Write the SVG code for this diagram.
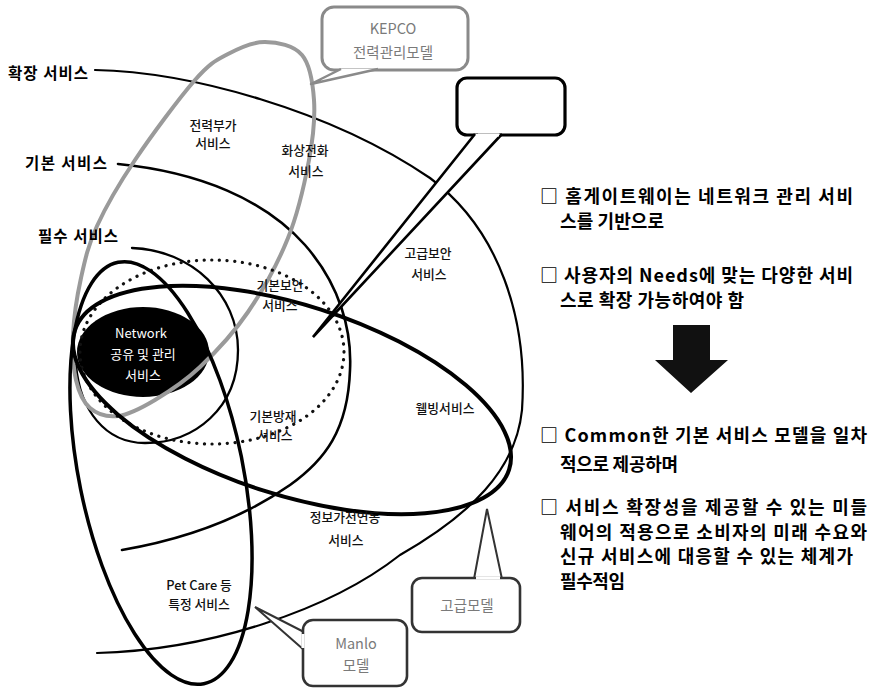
<svg xmlns="http://www.w3.org/2000/svg" width="874" height="689" viewBox="0 0 874 689">
<style>
text{font-family:"Noto Sans CJK KR","Noto Sans",sans-serif}
.lbl{font-size:15.5px;font-weight:700;fill:#000}
.in{font-size:12.8px;font-weight:500;fill:#111;text-anchor:middle}
.wt{font-size:13px;fill:#fff;text-anchor:middle}
.rt{font-size:18px;font-weight:700;fill:#000}
.co{font-size:14.5px;fill:#7a7a7a;text-anchor:middle}
.ln{fill:none;stroke:#000;stroke-linecap:round}
.gray{fill:none;stroke:#9a9a9a;stroke-width:4}
.dot{fill:none;stroke:#111;stroke-width:3.2;stroke-linecap:round;stroke-dasharray:0.1 7.6}
.box{fill:#fff;stroke-linejoin:round}
</style>
<rect width="874" height="689" fill="#fff"/>

<g id="network">
<ellipse cx="143" cy="352" rx="66" ry="45" fill="#000"/>
</g>

<g id="connectors">
<path id="curve-expand" class="ln" stroke-width="2.2" d="M95,70 C190,72 330,110 430,178 C500,230 528,320 522,410 C516,470 470,515 400,555 C330,610 210,650 97,653"/>
<path id="curve-basic" class="ln" stroke-width="2.6" d="M118,164 C200,172 265,200 305,245 C340,285 352,330 350,370 C348,430 325,460 290,485 C240,520 180,540 122,550"/>
<path id="curve-essential" class="ln" stroke-width="2.3" d="M132,248 C192,250 238,295 238,350 C238,408 195,443 145,443 C105,443 80,410 76,365"/>
<path id="ring-kepco" class="gray" d="M265,42 C277.3,42.2 293.8,45.3 302,55 C310.2,64.7 312.8,82.5 314,100 C315.2,117.5 313.3,137 309,160 C304.7,183 298.2,212.7 288,238 C277.8,263.3 262.7,290.5 248,312 C233.3,333.5 215.5,352.3 200,367 C184.5,381.7 168.7,391.8 155,400 C141.3,408.2 128.8,414.7 118,416 C107.2,417.3 97,414 90,408 C83,402 78.8,392.2 76,380 C73.2,367.8 72.2,352 73,335 C73.8,318 77,296.2 81,278 C85,259.8 88,245.7 97,226 C106,206.3 118.7,184.3 135,160 C151.3,135.7 179.5,97.7 195,80 C210.5,62.3 216.3,60.3 228,54 C239.7,47.7 252.7,41.8 265,42 Z"/>
<ellipse id="ring-security" class="dot" cx="212" cy="352" rx="132" ry="92"/>
<ellipse id="ring-wellbeing" class="ln" stroke-width="4" cx="292" cy="400" rx="228" ry="95" transform="rotate(17.8 292 400)"/>
<ellipse id="ring-petcare" class="ln" stroke-width="3.5" cx="161" cy="473" rx="82" ry="215" transform="rotate(-11.5 161 473)"/>
</g>

<g id="network-text">
<text class="wt" x="141" y="338">Network</text>
<text class="wt" x="143" y="359">공유 및 관리</text>
<text class="wt" x="143" y="380">서비스</text>
</g>

<g id="level-labels">
<text class="lbl" x="8" y="79" textLength="80">확장 서비스</text>
<text class="lbl" x="25" y="169" textLength="82">기본 서비스</text>
<text class="lbl" x="38" y="242" textLength="80">필수 서비스</text>
</g>

<g id="service-labels">
<text class="in" x="213" y="130">전력부가</text>
<text class="in" x="213" y="148">서비스</text>
<text class="in" x="305" y="155">화상전화</text>
<text class="in" x="306" y="176">서비스</text>
<text class="in" x="428" y="258">고급보안</text>
<text class="in" x="429" y="279">서비스</text>
<text class="in" x="280" y="290">기본보안</text>
<text class="in" x="280" y="310">서비스</text>
<text class="in" x="273" y="421">기본방재</text>
<text class="in" x="275" y="440">서비스</text>
<text class="in" x="445" y="413">웰빙서비스</text>
<text class="in" x="345" y="522">정보가전연동</text>
<text class="in" x="346" y="545">서비스</text>
<text class="in" x="199" y="590">Pet Care 등</text>
<text class="in" x="199" y="609">특정 서비스</text>
</g>

<g id="callout-kepco">
<rect class="box" x="322" y="7" width="146" height="63" rx="12" stroke="#8a8a8a" stroke-width="3"/>
<path d="M341,69 L311,84 L378,69" fill="#fff" stroke="#8a8a8a" stroke-width="2.5" stroke-linejoin="round"/>
<text class="co" x="393" y="34">KEPCO</text>
<text class="co" x="393" y="58">전력관리모델</text>
</g>

<g id="callout-empty">
<rect class="box" x="457" y="78" width="108" height="57" rx="10" stroke="#000" stroke-width="3.2"/>
<path d="M475,134 L313,337 L502,134" fill="#fff" stroke="#000" stroke-width="2.6" stroke-linejoin="miter"/>
<line x1="478" y1="135" x2="499" y2="135" stroke="#fff" stroke-width="3"/>
</g>

<g id="callout-premium">
<path d="M474,579 L487,509 L502,579" fill="#fff" stroke="#333" stroke-width="2"/>
<rect class="box" x="412" y="578" width="108" height="54" rx="10" stroke="#333" stroke-width="2.6"/>
<line x1="476" y1="578" x2="500" y2="578" stroke="#fff" stroke-width="3"/>
<text class="co" x="467" y="611">고급모델</text>
</g>

<g id="callout-manlo">
<path d="M304,632 L255,607 L304,650" fill="#fff" stroke="#333" stroke-width="2"/>
<rect class="box" x="303" y="620" width="104" height="66" rx="10" stroke="#333" stroke-width="2.6"/>
<line x1="303" y1="634" x2="303" y2="648" stroke="#fff" stroke-width="3"/>
<text class="co" x="356" y="649">Manlo</text>
<text class="co" x="356" y="671">모델</text>
</g>

<g id="down-arrow">
<polygon points="673,325 710,325 710,360 728,360 691,393 655,360 673,360" fill="#111"/>
</g>

<g id="summary">
<text class="rt" x="540" y="203" textLength="313">□ 홈게이트웨이는 네트워크 관리 서비</text>
<text class="rt" x="560" y="228" textLength="104">스를 기반으로</text>
<text class="rt" x="540" y="282" textLength="313">□ 사용자의 Needs에 맞는 다양한 서비</text>
<text class="rt" x="560" y="307" textLength="184">스로 확장 가능하여야 함</text>
<text class="rt" x="540" y="442" textLength="327">□ Common한 기본 서비스 모델을 일차</text>
<text class="rt" x="560" y="471" textLength="118">적으로 제공하며</text>
<text class="rt" x="540" y="514" textLength="327">□ 서비스 확장성을 제공할 수 있는 미들</text>
<text class="rt" x="560" y="539" textLength="307">웨어의 적용으로 소비자의 미래 수요와</text>
<text class="rt" x="560" y="563" textLength="293">신규 서비스에 대응할 수 있는 체계가</text>
<text class="rt" x="560" y="588" textLength="65">필수적임</text>
</g>
</svg>
